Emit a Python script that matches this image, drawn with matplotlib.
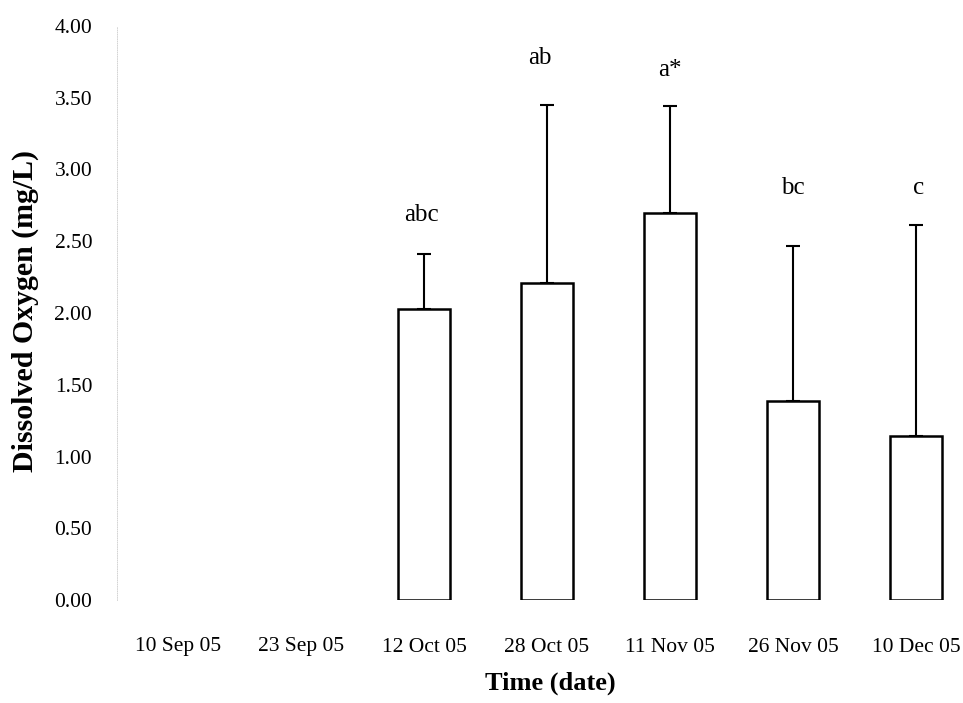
import numpy as np
import matplotlib.pyplot as plt

plt.rcParams["font.family"] = ["Liberation Serif", "DejaVu Serif"]

# data
dates = ["10 Sep 05", "23 Sep 05", "12 Oct 05", "28 Oct 05",
         "11 Nov 05", "26 Nov 05", "10 Dec 05"]
do_mean = [0.0, 0.0, 2.03, 2.21, 2.70, 1.39, 1.14]
do_upper = [0.0, 0.0, 2.41, 3.45, 3.44, 2.47, 2.61]
letters = ["", "", "abc", "ab", "a*", "bc", "c"]
letter_y = [0, 0, 2.68, 3.78, 3.69, 2.87, 2.87]
letter_dx = [0, 0, -0.02, -0.06, 0.0, 0.0, 0.02]
yticks = [0.0, 0.5, 1.0, 1.5, 2.0, 2.5, 3.0, 3.5, 4.0]

fig = plt.figure(figsize=(9.63, 7.03), dpi=100)
ax = fig.add_axes([116.5 / 963, 1 - 600 / 703, 861 / 963, 574 / 703])

x = np.arange(len(dates))
mean = np.array(do_mean)
err_up = np.array(do_upper) - mean
has = mean > 0

ax.bar(x[has], mean[has], width=0.42, color="white", edgecolor="black",
       linewidth=1.8, zorder=2)
ax.errorbar(x[has], mean[has], yerr=[np.zeros(has.sum()), err_up[has]],
            fmt="none", ecolor="black", elinewidth=1.5, capsize=5,
            capthick=1.5, zorder=1)

for xi, lab, ly, dx in zip(x, letters, letter_y, letter_dx):
    if lab:
        ax.text(xi + dx, ly, lab, ha="center", va="center", fontsize=18)

ax.set_xlim(-0.5, 6.5)
ax.set_ylim(0, 4)
ax.set_xticks(x)
ax.set_xticklabels(dates, fontsize=15.5)
ax.set_yticks(yticks)
ax.set_yticklabels([f"{v:.2f}" for v in yticks], fontsize=15.5)
ax.tick_params(axis="y", length=0, pad=17.5)
ax.tick_params(axis="x", length=0, pad=27)
for s in ["top", "right", "bottom"]:
    ax.spines[s].set_visible(False)
ax.spines["left"].set_color("#cccccc")
ax.spines["left"].set_linestyle(":")
ax.spines["left"].set_linewidth(0.6)
ax.set_clip_on(False)

fig.text(550 / 963, 1 - 683 / 703, "Time (date)", ha="center", va="center",
         fontsize=19, fontweight="bold")
fig.text(25 / 963, 1 - 311 / 703, "Dissolved Oxygen (mg/L)", ha="center",
         va="center", rotation=90, fontsize=21.5, fontweight="bold")

plt.savefig("out.png", dpi=100)
